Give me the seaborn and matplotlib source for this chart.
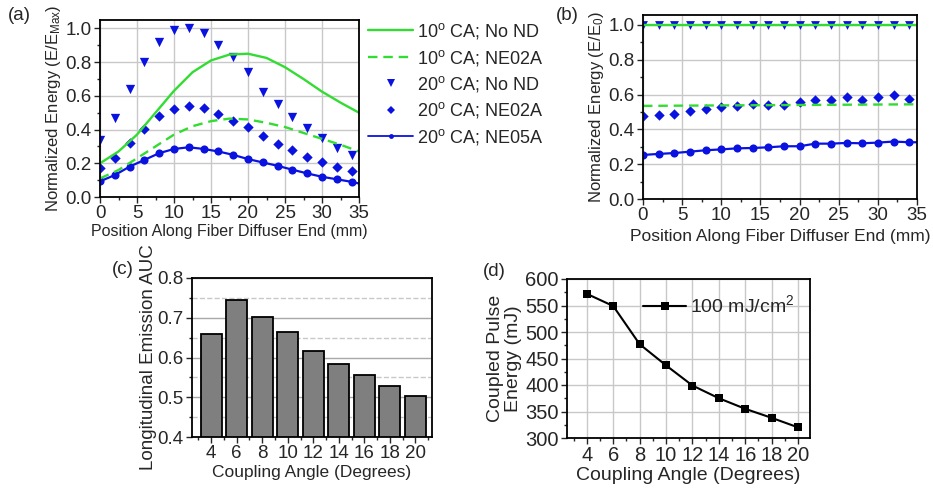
import matplotlib
matplotlib.use("Agg")
import matplotlib.pyplot as plt
from matplotlib.lines import Line2D
from matplotlib.ticker import MultipleLocator
import seaborn as sns

sns.set_style("ticks")
plt.rcParams['font.family'] = ['Liberation Sans', 'DejaVu Sans']
plt.rcParams['mathtext.fontset'] = 'custom'
plt.rcParams['mathtext.rm'] = 'Liberation Sans'
plt.rcParams['mathtext.it'] = 'Liberation Sans:italic'

# ---- data ----
# panel (a): position along the diffuser (mm)
pos = [0, 2, 4, 6, 8, 10, 12, 14, 16, 18, 20, 22, 24, 26, 28, 30, 32, 34]
a_noND_20 = [0.34, 0.47, 0.64, 0.80, 0.92, 0.99, 1.00, 0.97, 0.90, 0.83, 0.74, 0.62,
             0.55, 0.475, 0.41, 0.35, 0.29, 0.25]
a_ne02_20 = [0.17, 0.23, 0.32, 0.405, 0.48, 0.525, 0.54, 0.53, 0.49, 0.45, 0.415, 0.36,
             0.317, 0.28, 0.24, 0.21, 0.18, 0.155]
a_ne05_20 = [0.093, 0.13, 0.18, 0.22, 0.26, 0.285, 0.295, 0.285, 0.27, 0.25, 0.225, 0.205,
             0.185, 0.162, 0.14, 0.12, 0.105, 0.09]
pos_fine = [0, 2.5, 5, 7.5, 10, 12.5, 15, 17.5, 20, 22.5, 25, 27.5, 30, 32.5, 35]
a_noND_10 = [0.20, 0.27, 0.37, 0.50, 0.63, 0.74, 0.81, 0.845, 0.85, 0.825, 0.77, 0.70,
             0.625, 0.56, 0.50]
a_ne02_10 = [0.11, 0.16, 0.23, 0.30, 0.37, 0.42, 0.45, 0.465, 0.46, 0.44, 0.415, 0.38,
             0.345, 0.31, 0.27]

# panel (b): normalized to E0
b_noND_20 = [1.0] * 18
b_ne02_20 = [0.477, 0.481, 0.488, 0.506, 0.515, 0.527, 0.534, 0.544, 0.538, 0.538, 0.556,
             0.569, 0.571, 0.584, 0.571, 0.584, 0.596, 0.577]
b_ne05_20 = [0.253, 0.259, 0.264, 0.272, 0.280, 0.285, 0.291, 0.293, 0.297, 0.303, 0.303,
             0.318, 0.318, 0.322, 0.320, 0.324, 0.330, 0.326]
b_ends = [0, 35]
b_noND_10 = [1.0, 1.0]
b_ne02_10 = [0.535, 0.544]

# panels (c) and (d)
angles = [4, 6, 8, 10, 12, 14, 16, 18, 20]
auc = [0.660, 0.745, 0.703, 0.664, 0.617, 0.583, 0.555, 0.529, 0.503]
pulse_energy = [572, 549, 477, 437, 399, 375, 355, 338, 320]

green = '#33dc33'
blue = '#0a12e0'
W, H = 933, 491

fig = plt.figure(figsize=(9.33, 4.91), dpi=100)


def box(l, t, r, b):
    return [l / W, 1 - b / H, (r - l) / W, (b - t) / H]


def frame(ax, size=12):
    for s in ax.spines.values():
        s.set_visible(True)
        s.set_color('black')
        s.set_linewidth(1.3)
    ax.tick_params(which='major', direction='out', length=4, width=1, labelsize=size,
                   top=False, right=False, pad=2)
    ax.tick_params(which='minor', direction='out', length=2.5, width=1,
                   top=False, right=False)


# ---------- (a) ----------
ax = fig.add_axes(box(100, 20, 359, 197))
ax.grid(True, which='major', color='#c8c8c8', lw=1)
ax.set_axisbelow(True)
sns.lineplot(x=pos_fine, y=a_noND_10, ax=ax, color=green, lw=1.7)
sns.lineplot(x=pos_fine, y=a_ne02_10, ax=ax, color=green, lw=1.7, linestyle=(0, (4, 2.5)))
sns.scatterplot(x=pos, y=a_noND_20, ax=ax, color=blue, marker='v', s=45, linewidth=0)
sns.scatterplot(x=pos, y=a_ne02_20, ax=ax, color=blue, marker='D', s=28, linewidth=0)
sns.lineplot(x=pos + [35], y=a_ne05_20 + [0.08], ax=ax, color=blue, lw=1.6)
sns.scatterplot(x=pos, y=a_ne05_20, ax=ax, color=blue, marker='o', s=34, linewidth=0)
ax.set_xlim(0, 35)
ax.set_ylim(0, 1.05)
ax.xaxis.set_major_locator(MultipleLocator(5))
ax.xaxis.set_minor_locator(MultipleLocator(2.5))
ax.yaxis.set_major_locator(MultipleLocator(0.2))
ax.yaxis.set_minor_locator(MultipleLocator(0.1))
ax.set_yticklabels([f'{v:.1f}' for v in ax.get_yticks()])
frame(ax, 13.5)
ax.set_xlabel('Position Along Fiber Diffuser End (mm)', fontsize=11.5, labelpad=1)
ax.set_ylabel('Normalized Energy (E/E$_{\\mathrm{Max}}$)', fontsize=12, labelpad=2)

handles = [
    Line2D([], [], color=green, lw=1.7),
    Line2D([], [], color=green, lw=1.7, linestyle=(0, (4, 2.5))),
    Line2D([], [], color=blue, lw=0, marker='v', markersize=6, markeredgewidth=0),
    Line2D([], [], color=blue, lw=0, marker='D', markersize=4.5, markeredgewidth=0),
    Line2D([], [], color=blue, lw=1.3, marker='o', markersize=3.5, markeredgewidth=0),
]
labels = ['10$^{\\mathrm{o}}$ CA; No ND', '10$^{\\mathrm{o}}$ CA; NE02A',
          '20$^{\\mathrm{o}}$ CA; No ND', '20$^{\\mathrm{o}}$ CA; NE02A',
          '20$^{\\mathrm{o}}$ CA; NE05A']
fig.legend(handles, labels, loc='upper left', bbox_to_anchor=(368 / W, 1 - 21 / H),
           frameon=False, fontsize=13, handlelength=2.5, handletextpad=0.2,
           labelspacing=0.36, borderpad=0, borderaxespad=0)

# ---------- (b) ----------
ax = fig.add_axes(box(643, 15, 917, 199))
ax.grid(True, which='major', color='#c8c8c8', lw=1)
ax.set_axisbelow(True)
sns.lineplot(x=b_ends, y=b_noND_10, ax=ax, color=green, lw=1.7)
sns.lineplot(x=b_ends, y=b_ne02_10, ax=ax, color=green, lw=1.7, linestyle=(0, (4, 2.5)))
sns.scatterplot(x=pos, y=b_noND_20, ax=ax, color=blue, marker='v', s=40, linewidth=0)
sns.scatterplot(x=pos, y=b_ne02_20, ax=ax, color=blue, marker='D', s=28, linewidth=0)
sns.lineplot(x=pos + [35], y=b_ne05_20 + [0.326], ax=ax, color=blue, lw=1.6)
sns.scatterplot(x=pos, y=b_ne05_20, ax=ax, color=blue, marker='o', s=34, linewidth=0)
ax.set_xlim(0, 35)
ax.set_ylim(0, 1.057)
ax.xaxis.set_major_locator(MultipleLocator(5))
ax.xaxis.set_minor_locator(MultipleLocator(2.5))
ax.yaxis.set_major_locator(MultipleLocator(0.2))
ax.yaxis.set_minor_locator(MultipleLocator(0.1))
ax.set_yticklabels([f'{v:.1f}' for v in ax.get_yticks()])
frame(ax, 13.5)
ax.set_xlabel('Position Along Fiber Diffuser End (mm)', fontsize=12.5, labelpad=3)
ax.set_ylabel('Normalized Energy (E/E$_{\\mathrm{0}}$)', fontsize=12, labelpad=2)

# ---------- (c) ----------
ax = fig.add_axes(box(192, 278, 432, 437))
sns.barplot(x=[str(a) for a in angles], y=auc, ax=ax, color='#7f7f7f', saturation=1,
            edgecolor='black', linewidth=1.3, width=0.82)
ax.set_ylim(0.4, 0.8)
ax.set_xlim(-0.75, 8.65)
ax.yaxis.set_major_locator(MultipleLocator(0.1))
ax.yaxis.set_minor_locator(MultipleLocator(0.05))
ax.xaxis.set_minor_locator(MultipleLocator(0.5))
ax.yaxis.grid(True, which='major', color='#a8a8a8', lw=1)
ax.yaxis.grid(True, which='minor', color='#c8c8c8', lw=1, linestyle='--')
ax.set_axisbelow(True)
ax.set_yticklabels([f'{v:.1f}' for v in ax.get_yticks()])
frame(ax, 13.5)
ax.set_xlabel('Coupling Angle (Degrees)', fontsize=12.5, labelpad=2)
ax.set_ylabel('Longitudinal Emission AUC', fontsize=13.5, labelpad=0)

# ---------- (d) ----------
ax = fig.add_axes(box(567, 279, 810, 438))
ax.grid(True, which='major', color='#c8c8c8', lw=1)
ax.set_axisbelow(True)
sns.lineplot(x=angles, y=pulse_energy, ax=ax, color='black', lw=1.5, marker='s',
             markersize=6, markeredgewidth=0, label='100 mJ/cm$^{2}$')
ax.set_xlim(2.5, 20.9)
ax.set_ylim(300, 600)
ax.xaxis.set_major_locator(MultipleLocator(2))
ax.xaxis.set_minor_locator(MultipleLocator(1))
ax.yaxis.set_major_locator(MultipleLocator(50))
ax.yaxis.set_minor_locator(MultipleLocator(25))
frame(ax, 14.5)
ax.legend(loc='upper right', frameon=False, fontsize=14, handlelength=2.2,
          handletextpad=0.2, borderaxespad=0.4)
ax.set_xlabel('Coupling Angle (Degrees)', fontsize=14, labelpad=1)
ax.set_ylabel('Coupled Pulse\nEnergy (mJ)', fontsize=14, labelpad=2, linespacing=1.1)

# panel letters
fig.text(8 / W, 1 - 15 / H, '(a)', fontsize=13.5, va='center')
fig.text(556 / W, 1 - 15 / H, '(b)', fontsize=13.5, va='center')
fig.text(112 / W, 1 - 270 / H, '(c)', fontsize=13.5, va='center')
fig.text(483 / W, 1 - 272 / H, '(d)', fontsize=13.5, va='center')

fig.savefig('out.png', dpi=100)
